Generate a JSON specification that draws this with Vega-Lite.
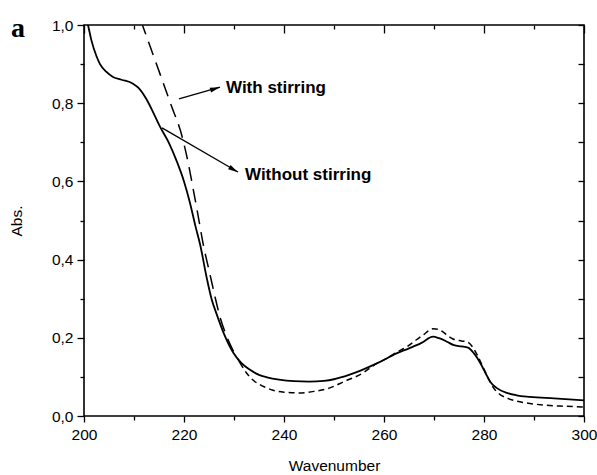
{
  "$schema": "https://vega.github.io/schema/vega-lite/v6.json",
  "width": 500,
  "height": 391,
  "autosize": {"type": "none"},
  "padding": {"left": 84, "top": 25, "right": 13, "bottom": 59},
  "background": "white",
  "config": {
    "view": {"stroke": "black", "strokeWidth": 1.6},
    "axis": {
      "domain": false, "grid": false, "labelFlush": false, "labelOverlap": false,
      "labelFont": "Liberation Sans", "titleFont": "Liberation Sans",
      "labelFontSize": 15.5, "titleFontSize": 15.5,
      "labelColor": "black", "titleColor": "black",
      "tickColor": "black", "tickWidth": 1.3, "titleFontWeight": "normal"
    }
  },
  "title": {
    "text": "a", "anchor": "start", "frame": "group", "orient": "top",
    "font": "Liberation Serif", "fontWeight": "bold", "fontSize": 28,
    "color": "black", "baseline": "alphabetic", "offset": 0, "dx": -73, "dy": 47
  },
  "datasets": {
    "without": [
      {"wl": 200.0, "abs": 1.04}, {"wl": 200.8, "abs": 1.0}, {"wl": 201.5, "abs": 0.96}, {"wl": 202.5, "abs": 0.92},
      {"wl": 203.2, "abs": 0.9}, {"wl": 204.5, "abs": 0.88}, {"wl": 205.8, "abs": 0.867}, {"wl": 207.5, "abs": 0.86},
      {"wl": 209.8, "abs": 0.85}, {"wl": 211.0, "abs": 0.838}, {"wl": 212.5, "abs": 0.81}, {"wl": 214.0, "abs": 0.772},
      {"wl": 215.2, "abs": 0.74}, {"wl": 217.0, "abs": 0.698}, {"wl": 218.6, "abs": 0.65}, {"wl": 220.0, "abs": 0.6},
      {"wl": 221.2, "abs": 0.545}, {"wl": 222.3, "abs": 0.485}, {"wl": 223.2, "abs": 0.44}, {"wl": 224.6, "abs": 0.35},
      {"wl": 225.5, "abs": 0.3}, {"wl": 226.6, "abs": 0.258}, {"wl": 228.0, "abs": 0.21}, {"wl": 229.8, "abs": 0.163},
      {"wl": 231.5, "abs": 0.135}, {"wl": 233.2, "abs": 0.118}, {"wl": 235.0, "abs": 0.105}, {"wl": 236.6, "abs": 0.099},
      {"wl": 239.0, "abs": 0.093}, {"wl": 242.0, "abs": 0.089}, {"wl": 245.0, "abs": 0.088}, {"wl": 248.0, "abs": 0.09},
      {"wl": 250.0, "abs": 0.094}, {"wl": 253.0, "abs": 0.105}, {"wl": 256.0, "abs": 0.12}, {"wl": 259.0, "abs": 0.137},
      {"wl": 262.5, "abs": 0.16}, {"wl": 265.0, "abs": 0.173}, {"wl": 267.5, "abs": 0.187}, {"wl": 269.8, "abs": 0.203},
      {"wl": 271.0, "abs": 0.199}, {"wl": 272.6, "abs": 0.19}, {"wl": 274.0, "abs": 0.181}, {"wl": 275.5, "abs": 0.178},
      {"wl": 276.8, "abs": 0.175}, {"wl": 278.0, "abs": 0.16}, {"wl": 279.2, "abs": 0.137}, {"wl": 280.3, "abs": 0.11},
      {"wl": 281.2, "abs": 0.088}, {"wl": 282.5, "abs": 0.072}, {"wl": 284.6, "abs": 0.059}, {"wl": 286.5, "abs": 0.053},
      {"wl": 289.2, "abs": 0.049}, {"wl": 294.0, "abs": 0.045}, {"wl": 300.0, "abs": 0.04}
    ],
    "with_steep": [
      {"wl": 211.4, "abs": 1.01}, {"wl": 213.2, "abs": 0.946}, {"wl": 215.2, "abs": 0.875}, {"wl": 217.2, "abs": 0.803},
      {"wl": 219.8, "abs": 0.706}, {"wl": 220.8, "abs": 0.65}, {"wl": 221.8, "abs": 0.583}, {"wl": 222.8, "abs": 0.514},
      {"wl": 223.8, "abs": 0.442}, {"wl": 225.2, "abs": 0.362}, {"wl": 226.2, "abs": 0.305}, {"wl": 227.2, "abs": 0.253},
      {"wl": 228.5, "abs": 0.205}, {"wl": 229.8, "abs": 0.168}, {"wl": 231.2, "abs": 0.136}
    ],
    "with_flat": [
      {"wl": 231.2, "abs": 0.136}, {"wl": 232.5, "abs": 0.11}, {"wl": 233.8, "abs": 0.092}, {"wl": 235.8, "abs": 0.076},
      {"wl": 237.8, "abs": 0.066}, {"wl": 240.0, "abs": 0.061}, {"wl": 243.0, "abs": 0.059}, {"wl": 246.0, "abs": 0.063},
      {"wl": 249.2, "abs": 0.072}, {"wl": 252.0, "abs": 0.088}, {"wl": 255.8, "abs": 0.11}, {"wl": 258.0, "abs": 0.13},
      {"wl": 260.6, "abs": 0.148}, {"wl": 262.5, "abs": 0.163}, {"wl": 264.6, "abs": 0.177}, {"wl": 266.5, "abs": 0.195},
      {"wl": 267.8, "abs": 0.207}, {"wl": 269.8, "abs": 0.223}, {"wl": 270.8, "abs": 0.222}, {"wl": 271.8, "abs": 0.215},
      {"wl": 273.0, "abs": 0.203}, {"wl": 273.8, "abs": 0.197}, {"wl": 275.5, "abs": 0.192}, {"wl": 276.6, "abs": 0.19},
      {"wl": 277.8, "abs": 0.175}, {"wl": 278.8, "abs": 0.152}, {"wl": 279.8, "abs": 0.125}, {"wl": 280.8, "abs": 0.098},
      {"wl": 281.8, "abs": 0.074}, {"wl": 283.0, "abs": 0.057}, {"wl": 284.6, "abs": 0.046}, {"wl": 286.5, "abs": 0.038},
      {"wl": 288.6, "abs": 0.033}, {"wl": 292.0, "abs": 0.028}, {"wl": 296.0, "abs": 0.025}, {"wl": 300.0, "abs": 0.023}
    ],
    "arrows": [
      {"x1": 219.0, "y1": 0.811, "x2": 227.2, "y2": 0.841, "hx": 226.24, "hy": 0.837, "angle": 74, "label": "With stirring", "lx": 228.4, "ly": 0.839},
      {"x1": 215.6, "y1": 0.737, "x2": 230.8, "y2": 0.624, "hx": 229.93, "hy": 0.63, "angle": 120, "label": "Without stirring", "lx": 232.2, "ly": 0.616}
    ]
  },
  "resolve": {"axis": {"x": "independent", "y": "independent"}},
  "layer": [
    {
      "data": {"name": "without"},
      "mark": {"type": "line", "color": "black", "strokeWidth": 1.8, "interpolate": "monotone", "clip": true},
      "encoding": {
        "x": {"field": "wl", "type": "quantitative", "scale": {"domain": [200, 300], "nice": false, "zero": false},
          "axis": {"orient": "bottom", "values": [200, 220, 240, 260, 280, 300], "tickSize": 6, "labelPadding": 5, "title": "Wavenumber", "titlePadding": 16}},
        "y": {"field": "abs", "type": "quantitative", "scale": {"domain": [0, 1], "nice": false, "zero": false},
          "axis": {"orient": "left", "values": [0, 0.2, 0.4, 0.6, 0.8, 1.0], "tickSize": 7, "labelPadding": 4,
            "labelExpr": "replace(format(datum.value, '.1f'), '.', ',')", "title": "Abs.", "titlePadding": 27}}
      }
    },
    {
      "data": {"name": "with_steep"},
      "mark": {"type": "line", "color": "black", "strokeWidth": 1.5, "strokeDash": [14, 8], "interpolate": "monotone", "clip": true},
      "encoding": {
        "x": {"field": "wl", "type": "quantitative",
          "axis": {"orient": "bottom", "values": [210, 230, 250, 270, 290], "tickSize": 4, "labels": false, "title": null}},
        "y": {"field": "abs", "type": "quantitative",
          "axis": {"orient": "left", "values": [0.1, 0.3, 0.5, 0.7, 0.9], "tickSize": 4, "labels": false, "title": null}}
      }
    },
    {
      "data": {"name": "with_flat"},
      "mark": {"type": "line", "color": "black", "strokeWidth": 1.5, "strokeDash": [6, 4], "interpolate": "monotone", "clip": true},
      "encoding": {
        "x": {"field": "wl", "type": "quantitative",
          "axis": {"orient": "top", "values": [200, 220, 240, 260, 280, 300], "tickSize": 8, "offset": -8, "labels": false, "title": null}},
        "y": {"field": "abs", "type": "quantitative",
          "axis": {"orient": "right", "values": [0, 0.1, 0.2, 0.3, 0.4, 0.5, 0.6, 0.7, 0.8, 0.9, 1.0], "tickSize": 6, "offset": -6, "labels": false, "title": null}}
      }
    },
    {
      "data": {"name": "arrows"},
      "mark": {"type": "rule", "color": "black", "strokeWidth": 1.3},
      "encoding": {
        "x": {"field": "x1", "type": "quantitative",
          "axis": {"orient": "top", "values": [210, 230, 250, 270, 290], "tickSize": 4, "offset": -4, "labels": false, "title": null}},
        "y": {"field": "y1", "type": "quantitative", "axis": null},
        "x2": {"field": "x2"},
        "y2": {"field": "y2"}
      }
    },
    {
      "data": {"name": "arrows"},
      "mark": {"type": "point", "shape": "M0,-1L0.5,1L-0.5,1Z", "filled": true, "color": "black", "opacity": 1, "size": 100},
      "encoding": {
        "x": {"field": "hx", "type": "quantitative", "axis": null},
        "y": {"field": "hy", "type": "quantitative", "axis": null},
        "angle": {"field": "angle", "type": "quantitative", "scale": null}
      }
    },
    {
      "data": {"name": "arrows"},
      "mark": {"type": "text", "align": "left", "baseline": "middle", "font": "Liberation Sans", "fontWeight": "bold", "fontSize": 17, "color": "black"},
      "encoding": {
        "x": {"field": "lx", "type": "quantitative", "axis": null},
        "y": {"field": "ly", "type": "quantitative", "axis": null},
        "text": {"field": "label"}
      }
    }
  ]
}
